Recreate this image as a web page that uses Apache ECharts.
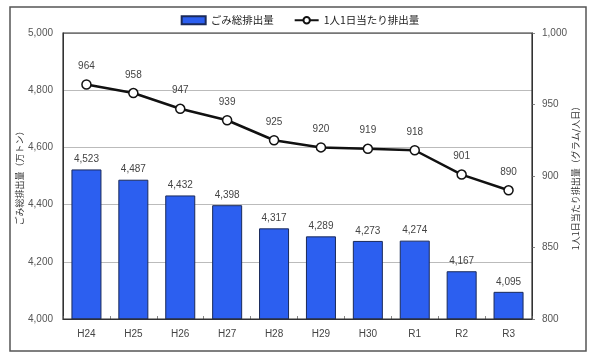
<!DOCTYPE html>
<html><head><meta charset="utf-8">
<script src="https://cdn.jsdelivr.net/npm/echarts@6/dist/echarts.min.js"></script>
<style>html,body{margin:0;padding:0;background:#fff}#c{width:600px;height:359px}</style>
</head><body><div id="c"></div>
<script>
const categories = ['H24','H25','H26','H27','H28','H29','H30','R1','R2','R3'];
const totalWaste = [4523,4487,4432,4398,4317,4289,4273,4274,4167,4095];
const perCapita = [964,958,947,939,925,920,919,918,901,890];
const leftTicks = [4000,4200,4400,4600,4800,5000];
const rightTicks = [800,850,900,950,1000];

const font = '"Noto Sans CJK JP", "Liberation Sans", sans-serif';
const numFont = '"Liberation Sans", Arial, sans-serif';
const chart = echarts.init(document.getElementById('c'));
chart.setOption({
  animation:false,
  textStyle:{fontFamily:font},
  graphic:[
    {type:'rect',shape:{x:10,y:7,width:576,height:344},style:{fill:'none',stroke:'#555',lineWidth:1.5},z:-1},
    {type:'rect',shape:{x:63,y:33,width:469,height:286},style:{fill:'none',stroke:'#333',lineWidth:1.2},z:10}
  ],
  legend:{
    top:10,left:'center',itemGap:20,itemWidth:24,itemHeight:8,
    textStyle:{fontSize:10.5,color:'#222',fontFamily:font},
    data:[{name:'ごみ総排出量',icon:'rect'},{name:'1人1日当たり排出量'}]
  },
  grid:{left:63,right:68,top:33,bottom:40},
  xAxis:{
    type:'category',data:categories,
    axisLine:{lineStyle:{color:'#333'}},
    axisTick:{show:true,inside:true,length:3,lineStyle:{color:'#888'}},
    axisLabel:{fontSize:10,color:'#444',margin:10,fontFamily:numFont}
  },
  yAxis:[
    {type:'value',min:leftTicks[0],max:leftTicks[leftTicks.length-1],interval:200,
     name:'ごみ総排出量（万トン）',nameLocation:'middle',nameGap:39,nameRotate:90,nameMoveOverlap:false,
     nameTextStyle:{fontSize:9,color:'#333'},
     axisLine:{show:true,lineStyle:{color:'#333'}},axisTick:{show:false},
     axisLabel:{fontSize:10,color:'#555',margin:10,fontFamily:numFont,formatter:v=>v.toLocaleString('en-US')},
     splitLine:{lineStyle:{color:'#bbb'}}},
    {type:'value',min:rightTicks[0],max:rightTicks[rightTicks.length-1],interval:50,
     name:'1人1日当たり排出量（グラム/人日）',nameLocation:'middle',nameGap:39,nameRotate:90,nameMoveOverlap:false,
     nameTextStyle:{fontSize:9,color:'#333'},
     axisLine:{show:true,lineStyle:{color:'#333'}},axisTick:{show:true,length:3,lineStyle:{color:'#888'}},
     axisLabel:{fontSize:10,color:'#555',margin:10,fontFamily:numFont,formatter:v=>v.toLocaleString('en-US')},
     splitLine:{show:false}}
  ],
  series:[
    {name:'ごみ総排出量',type:'bar',data:totalWaste,barWidth:'64%',
     itemStyle:{color:'#2c5ff0',borderColor:'#1a2a5a',borderWidth:1},
     label:{show:true,position:'top',fontSize:10,color:'#444',distance:5,fontFamily:numFont,formatter:p=>p.value.toLocaleString('en-US')}},
    {name:'1人1日当たり排出量',type:'line',yAxisIndex:1,data:perCapita,
     symbol:'circle',symbolSize:9,
     lineStyle:{color:'#111',width:2.5},
     itemStyle:{color:'#fff',borderColor:'#111',borderWidth:1.5},
     label:{show:true,position:'top',fontSize:10,color:'#444',distance:8,fontFamily:numFont}}
  ]
});
</script></body></html>
